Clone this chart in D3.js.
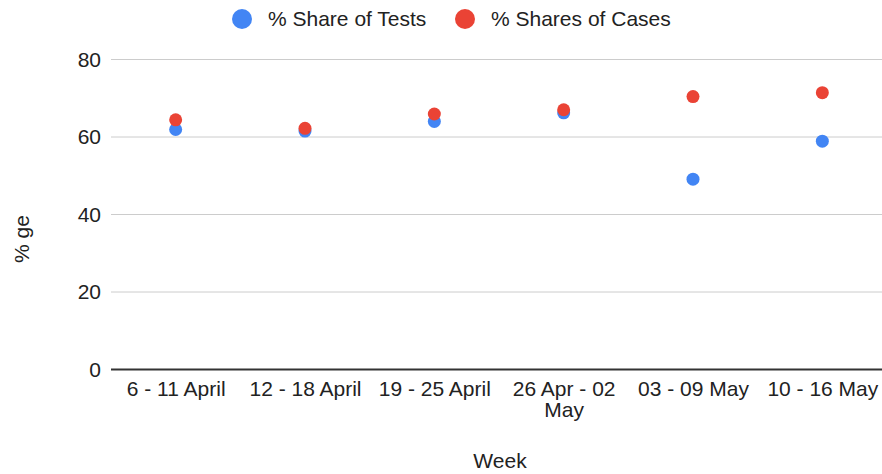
<!DOCTYPE html>
<html>
<head>
<meta charset="utf-8">
<script src="https://cdn.jsdelivr.net/npm/d3@7"></script>
<style>
  body { margin: 0; background: #fff; }
  text { font-family: "Liberation Sans", Arial, sans-serif; }
</style>
</head>
<body>
<div class="chart"></div>
<script>
// data
const weeks = ['6 - 11 April', '12 - 18 April', '19 - 25 April', '26 Apr - 02 May', '03 - 09 May', '10 - 16 May'];
const shareTests = [61.8, 61.4, 63.9, 66.1, 49.0, 58.8];
const shareCases = [64.3, 62.1, 65.8, 66.9, 70.3, 71.3];
const yTicks = [0, 20, 40, 60, 80];
const seriesNames = ['% Share of Tests', '% Shares of Cases'];
const colors = ['#4285F4', '#EA4335'];

const W = 882, H = 474;
const margin = { top: 59, right: 0, bottom: 105, left: 111 };
const width = 776;
const height = H - margin.top - margin.bottom;
const fontSize = '21px';

const svg = d3.select('.chart')
  .append('svg')
    .attr('width', W)
    .attr('height', H);

const g = svg.append('g')
  .attr('transform', `translate(${margin.left}, ${margin.top})`);

const xScale = d3.scalePoint()
  .domain(weeks)
  .range([0, width])
  .padding(0.5);

const yScale = d3.scaleLinear()
  .domain([0, 80])
  .range([height, 0]);

// gridlines + y labels
const yAxis = g.append('g')
  .call(d3.axisLeft(yScale).tickValues(yTicks).tickSize(-(W - margin.left)).tickPadding(10));
yAxis.select('.domain').remove();
yAxis.selectAll('.tick line')
  .attr('stroke', d => d === 0 ? '#333' : '#ccc')
  .attr('stroke-width', d => d === 0 ? 2 : 1);
yAxis.selectAll('.tick text')
  .attr('fill', '#222')
  .style('font-size', fontSize)
  .attr('dy', '0.35em');

// x labels
const xAxis = g.append('g')
  .attr('transform', `translate(0, ${height})`)
  .call(d3.axisBottom(xScale).tickSize(0).tickPadding(12));
xAxis.select('.domain').remove();
xAxis.selectAll('.tick text')
  .attr('fill', '#222')
  .style('font-size', fontSize)
  .each(function (d) {
    const t = d3.select(this);
    if (d === '26 Apr - 02 May') {
      t.text(null);
      t.append('tspan').attr('x', 0).attr('dy', '0.71em').text('26 Apr - 02');
      t.append('tspan').attr('x', 0).attr('dy', '1.0em').text('May');
    }
  });

// points
const series = [shareTests, shareCases];
series.forEach((vals, i) => {
  g.selectAll('.pt' + i)
    .data(vals)
    .enter()
    .append('circle')
      .attr('class', 'pt' + i)
      .attr('cx', (d, j) => xScale(weeks[j]))
      .attr('cy', d => yScale(d))
      .attr('r', 6.5)
      .style('fill', colors[i]);
});

// axis titles
svg.append('text')
  .attr('x', 500)
  .attr('y', 468)
  .attr('text-anchor', 'middle')
  .style('font-size', fontSize)
  .attr('fill', '#222')
  .text('Week');

svg.append('text')
  .attr('transform', 'translate(29, 239) rotate(-90)')
  .attr('text-anchor', 'middle')
  .style('font-size', fontSize)
  .attr('fill', '#222')
  .text('% ge');

// legend
const legendX = [242, 465];
seriesNames.forEach((name, i) => {
  svg.append('circle')
    .attr('cx', legendX[i])
    .attr('cy', 19)
    .attr('r', 10)
    .style('fill', colors[i]);
  svg.append('text')
    .attr('x', legendX[i] + 26)
    .attr('y', 19)
    .attr('dy', '0.35em')
    .style('font-size', fontSize)
    .attr('fill', '#222')
    .text(name);
});
</script>
</body>
</html>
